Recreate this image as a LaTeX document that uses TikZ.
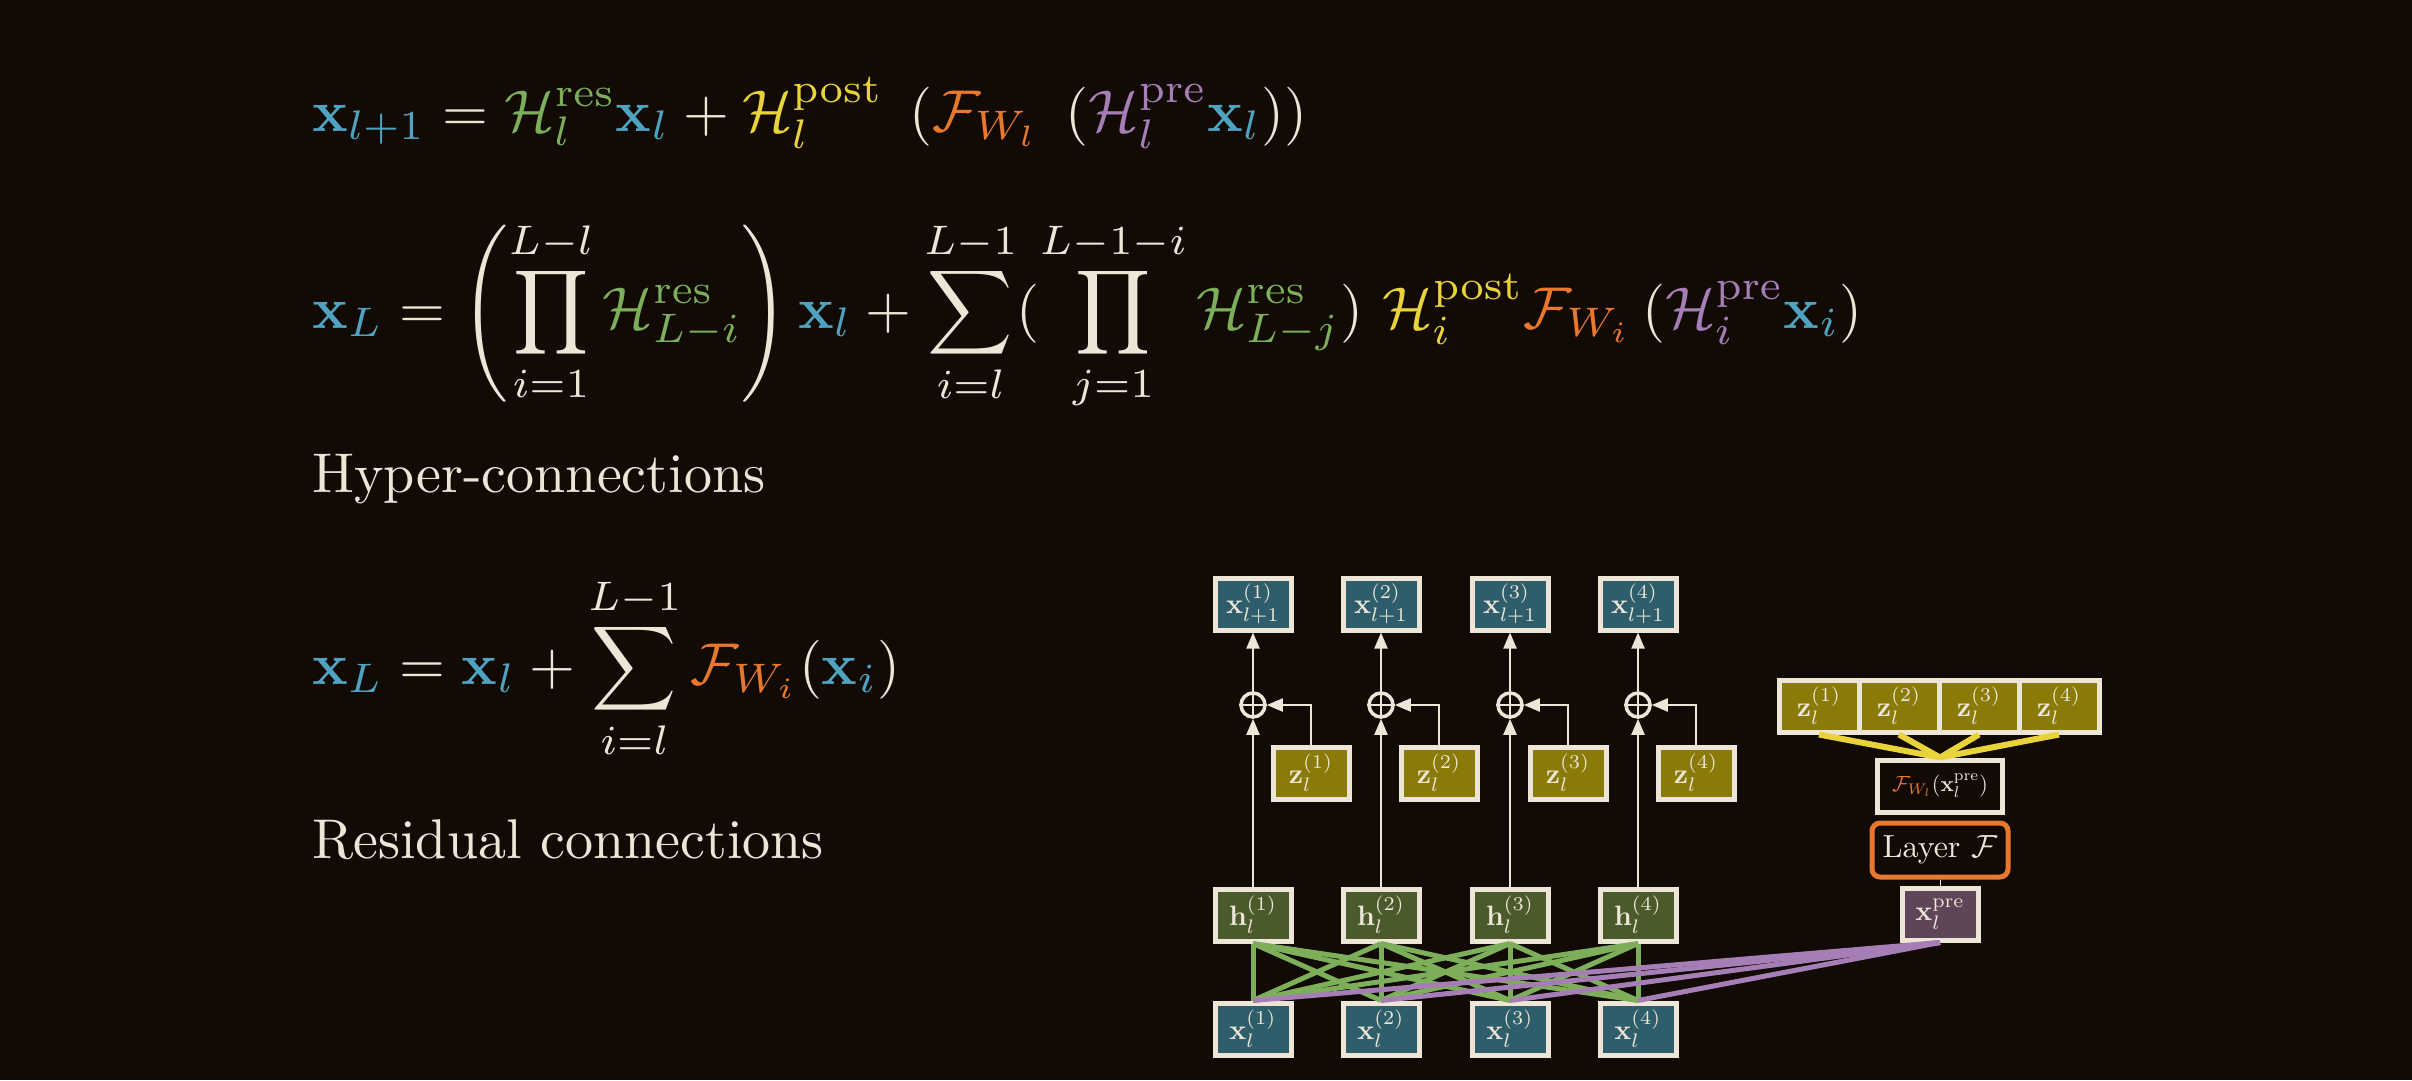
\documentclass[tikz,border=0pt]{standalone}
\usepackage{amsmath,amssymb,graphicx}
\usetikzlibrary{arrows.meta}
\definecolor{bg}{HTML}{120A05}
\definecolor{cr}{HTML}{EDE6D6}
\definecolor{cx}{HTML}{4FA3C0}
\definecolor{cg}{HTML}{7DAE5A}
\definecolor{cy}{HTML}{E8D33A}
\definecolor{co}{HTML}{E8782D}
\definecolor{cp}{HTML}{A57EB5}
\definecolor{fx}{HTML}{2E5E6C}
\definecolor{fh}{HTML}{4B5A2B}
\definecolor{fz}{HTML}{8A7A08}
\definecolor{fp}{HTML}{5E4558}
\newcommand{\X}[1]{{\color{cx}\mathbf{x}_{#1}}}
\newcommand{\BIG}[1]{\scalebox{5.9}{#1}}
\newcommand{\TXT}[1]{\scalebox{5.6}{#1}}
\newcommand{\BX}[1]{\scalebox{2.8}{#1}}
\begin{document}
\begin{tikzpicture}[x=1pt,y=-1pt,
 eq/.style={anchor=base west,text=cr,inner sep=0},
 bx/.style={draw=cr,line width=5pt,minimum width=76pt,minimum height=52pt,inner sep=0,text=cr},
 ar/.style={cr,line width=2pt,-{Triangle[length=16pt,width=13pt]}},
 gl/.style={cg,line width=5pt},
 pl/.style={cp,line width=5pt}]
\fill[bg] (0,0) rectangle (2412,1080);
\useasboundingbox (0,0) rectangle (2412,1080);
\node[eq] (e1) at (312,131) {\BIG{$\displaystyle \X{l+1} = {\color{cg}\mathcal{H}_l^{\mathrm{res}}}\X{l} + {\color{cy}\mathcal{H}_l^{\mathrm{post}}}\;\left({\color{co}\mathcal{F}_{W_l}}\;\left({\color{cp}\mathcal{H}_l^{\mathrm{pre}}}\X{l}\right)\right)$}};
\node[eq] (e2) at (312,328) {\BIG{$\displaystyle \X{L} = \left(\prod_{i=1}^{L-l}{\color{cg}\mathcal{H}_{L-i}^{\mathrm{res}}}\right)\X{l} + \sum_{i=l}^{L-1}(\prod_{j=1}^{L-1-i}{\color{cg}\mathcal{H}_{L-j}^{\mathrm{res}}})\ {\color{cy}\mathcal{H}_i^{\mathrm{post}}}{\color{co}\mathcal{F}_{W_i}}\left({\color{cp}\mathcal{H}_i^{\mathrm{pre}}}\X{i}\right)$}};
\node[eq] (t1) at (312,492) {\TXT{Hyper-connections}};
\node[eq] (e3) at (312,684) {\BIG{$\displaystyle \X{L} = \X{l} + \sum_{i=l}^{L-1}{\color{co}\mathcal{F}_{W_i}}(\X{i})$}};
\node[eq] (t2) at (312,858) {\TXT{Residual connections}};
\foreach \i/\x in {1/1253,2/1381,3/1510,4/1638}{
 \node[bx,fill=fx] (o\i) at (\x,604) {\BX{$\mathbf{x}_{l+1}^{(\i)}$}};
 \node[draw=cr,line width=3.5pt,circle,minimum size=24pt,inner sep=0] (c\i) at (\x,705) {};
 \draw[cr,line width=1.5pt] (c\i.north)--(c\i.south) (c\i.west)--(c\i.east);
 \node[bx,fill=fz] (z\i) at (\x+58,773) {\BX{$\mathbf{z}_l^{(\i)}$}};
 \node[bx,fill=fh] (h\i) at (\x,915) {\BX{$\mathbf{h}_l^{(\i)}$}};
 \node[bx,fill=fx] (x\i) at (\x,1029) {\BX{$\mathbf{x}_l^{(\i)}$}};
 \draw[ar] (h\i.north) -- (c\i.south);
 \draw[ar] (c\i.north) -- (o\i.south);
 \draw[ar] (z\i.north) |- (c\i.east);
}
\foreach \i/\x in {1/1819,2/1899,3/1979,4/2059}{
 \node[bx,fill=fz,minimum width=80pt] (r\i) at (\x,706) {\BX{$\mathbf{z}_l^{(\i)}$}};
}
\node[bx,fill=bg,minimum width=125pt] (f) at (1940,786) {\scalebox{2.2}{${\color{co}\mathcal{F}_{W_l}}(\mathbf{x}_l^{\mathrm{pre}})$}};
\node[draw=co,line width=5pt,rounded corners=8pt,minimum width=136pt,minimum height=54pt,text=cr,inner sep=0] (lay) at (1940,850) {\scalebox{3.2}{Layer $\mathcal{F}$}};
\node[bx,fill=fp] (p) at (1940,914) {\BX{$\mathbf{x}_l^{\mathrm{pre}}$}};
\draw[cr,line width=1pt] (lay.south) -- (p.north);
\foreach \i in {1,2,3,4}{\draw[line width=6pt,cy] (r\i.south) -- (f.north);}
\foreach \i in {1,2,3,4}{\foreach \j in {1,2,3,4}{\draw[gl] (h\i.south) -- (x\j.north);}}
\foreach \j in {1,2,3,4}{\draw[pl] (p.south) -- (x\j.north);}
\end{tikzpicture}
\end{document}
